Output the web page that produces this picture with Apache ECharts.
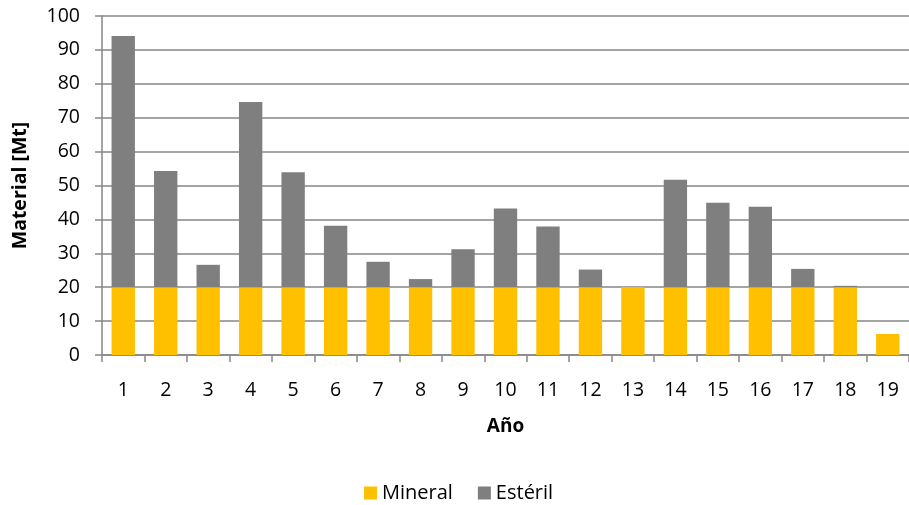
<!DOCTYPE html>
<html>
<head>
<meta charset="utf-8">
<script src="https://cdn.jsdelivr.net/npm/echarts@6/dist/echarts.min.js"></script>
<style>
  html, body { margin: 0; padding: 0; background: #fff; }
  #chart { width: 909px; height: 505px; }
</style>
</head>
<body>
<div id="chart"></div>
<script>
// Production schedule per year: ore (Mineral) and waste (Estéril), in Mt
const years = ['1','2','3','4','5','6','7','8','9','10','11','12','13','14','15','16','17','18','19'];
const mineral = [20, 20, 20, 20, 20, 20, 20, 20, 20, 20, 20, 20, 20, 20, 20, 20, 20, 20, 6.2];
const esteril = [74.1, 34.3, 6.6, 54.6, 33.9, 18.1, 7.5, 2.4, 11.2, 23.2, 17.9, 5.2, 0, 31.7, 24.9, 23.7, 5.4, 0.4, 0];
const yTicks = { min: 0, max: 100, step: 10 };

const font = '"Open Sans", "DejaVu Sans", sans-serif';
const gridColor = '#868686';

const chart = echarts.init(document.getElementById('chart'), null, { renderer: 'canvas' });
chart.setOption({
  animation: false,
  backgroundColor: '#ffffff',
  textStyle: { fontFamily: font, color: '#000' },
  grid: { left: 102, right: -2, top: 16, bottom: 150, containLabel: false },
  legend: {
    top: 478,
    left: 359,
    itemWidth: 13,
    itemHeight: 13,
    itemGap: 25,
    icon: 'rect',
    textStyle: { fontFamily: font, fontSize: 20, color: '#000' },
    data: ['Mineral', 'Estéril']
  },
  xAxis: {
    type: 'category',
    data: years,
    name: 'Año',
    nameLocation: 'middle',
    nameGap: 62,
    nameTextStyle: { fontFamily: font, fontSize: 19, fontWeight: 'bold', color: '#000' },
    axisLine: { lineStyle: { color: gridColor, width: 1.5 } },
    axisTick: { show: true, length: 7, lineStyle: { color: gridColor, width: 1.5 }, alignWithLabel: false },
    axisLabel: { margin: 25, fontFamily: font, fontSize: 19.5, color: '#000' }
  },
  yAxis: {
    type: 'value',
    min: yTicks.min,
    max: yTicks.max,
    interval: yTicks.step,
    name: 'Material [Mt]',
    nameLocation: 'middle',
    nameGap: 72,
    nameTextStyle: { fontFamily: font, fontSize: 19.5, fontWeight: 'bold', color: '#000' },
    axisLine: { show: true, lineStyle: { color: gridColor, width: 1.5 } },
    axisTick: { show: true, length: 7, lineStyle: { color: gridColor, width: 1.5 } },
    axisLabel: { margin: 22, fontFamily: font, fontSize: 19.5, color: '#000' },
    splitLine: { show: true, lineStyle: { color: gridColor, width: 1.5 } }
  },
  series: [
    {
      name: 'Mineral',
      type: 'bar',
      stack: 'total',
      data: mineral,
      barCategoryGap: '45%',
      itemStyle: { color: '#FFC000' }
    },
    {
      name: 'Estéril',
      type: 'bar',
      stack: 'total',
      data: esteril,
      barCategoryGap: '45%',
      itemStyle: { color: '#7F7F7F' }
    }
  ]
});
</script>
</body>
</html>
